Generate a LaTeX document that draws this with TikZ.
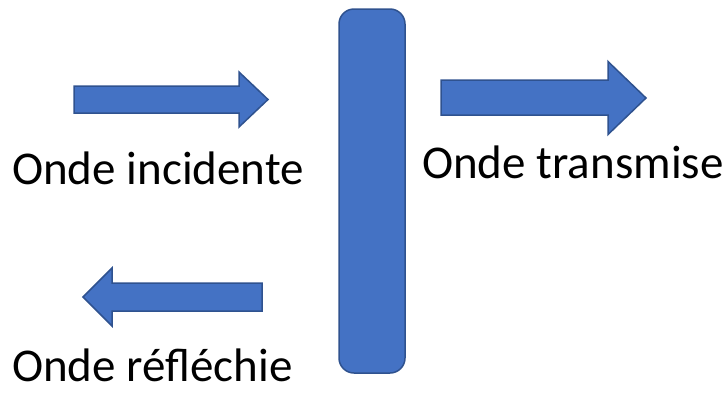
\documentclass[tikz,border=0pt]{standalone}
\usepackage{fontspec}
\setmainfont{Carlito}
\usepackage{tikz}
\definecolor{wavefill}{HTML}{4472C4}
\definecolor{waveline}{HTML}{2F528F}

\begin{document}
\begin{tikzpicture}[
  x=1pt, y=-1pt,
  wave/.style={fill=wavefill, draw=waveline, line width=1.5pt, line join=miter},
  plate/.style={wave, rounded corners=15pt},
  caption/.style={font=\fontsize{47}{55}\selectfont, inner sep=0pt, anchor=base west}
]
  \useasboundingbox (0,0) rectangle (728,392);

  % incident, transmitted and reflected waves
  \draw[wave] (74,86) -- (239,86) -- (239,72) -- (268,99.5) -- (239,127) -- (239,113) -- (74,113) -- cycle;
  \draw[wave] (441,80) -- (608,80) -- (608,61.5) -- (646,98) -- (608,134.5) -- (608,115) -- (441,115) -- cycle;
  \draw[wave] (262,283) -- (112,283) -- (112,268) -- (83,297) -- (112,326) -- (112,311) -- (262,311) -- cycle;

  % the interface
  \draw[plate] (339,9) rectangle (405,373);

  \node[caption] (incident) at (12,184) {Onde incidente};
  \node[caption] (transmitted) at (422,178) {Onde transmise};
  \node[caption] (reflected) at (12,381) {Onde réfléchie};
\end{tikzpicture}
\end{document}
